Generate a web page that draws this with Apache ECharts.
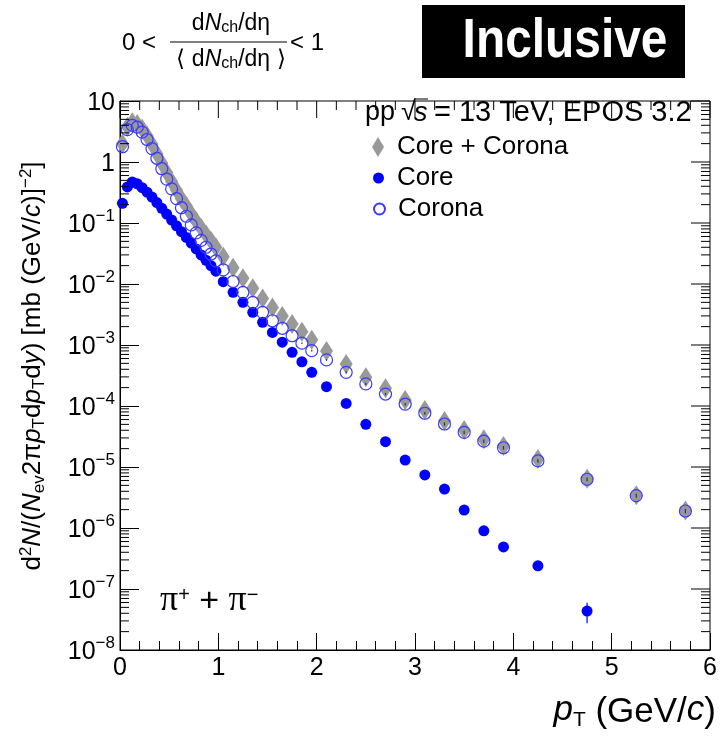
<!DOCTYPE html>
<html><head><meta charset="utf-8">
<script src="https://cdn.jsdelivr.net/npm/echarts@6/dist/echarts.min.js"></script>
<style>html,body{margin:0;padding:0;background:#fff}#c{width:720px;height:739px}</style>
</head><body><div id="c"></div><script>
// ---- data ----
const pt = [0.025,0.075,0.125,0.175,0.225,0.275,0.325,0.375,0.425,0.475,0.525,0.575,0.625,0.675,0.725,0.775,0.825,0.875,0.925,0.975,
  1.05,1.15,1.25,1.35,1.45,1.55,1.65,1.75,1.85,1.95,
  2.1,2.3,2.5,2.7,2.9,3.1,3.3,3.5,3.7,3.9,
  4.25,4.75,5.25,5.75];
const coreY = [0.21,0.39,0.47,0.44,0.38,0.32,0.266,0.216,0.174,0.14,0.112,0.090,0.072,0.058,0.047,0.0376,0.030,0.0245,0.020,0.0162,
  0.0109,0.0073,0.0050,0.00343,0.00235,0.00161,0.00111,0.00076,0.00053,0.000356,
  2.07e-4,1.10e-4,5.0e-5,2.6e-5,1.3e-5,7.4e-6,4.35e-6,1.97e-6,9.0e-7,4.9e-7,
  2.4e-7,4.35e-8,null,null];
const coronaY = [1.78,3.39,3.98,3.72,3.09,2.34,1.66,1.15,0.776,0.525,0.363,0.251,0.178,0.129,0.093,0.069,0.052,0.040,0.031,0.024,
  0.017,0.011,7.3e-3,5.0e-3,3.43e-3,2.5e-3,1.88e-3,1.42e-3,1.07e-3,8.1e-4,
  5.7e-4,3.56e-4,2.3e-4,1.57e-4,1.07e-4,7.6e-5,5.07e-5,3.7e-5,2.65e-5,2.07e-5,
  1.26e-5,6.3e-6,3.4e-6,1.9e-6];
const totalY = [2.0,3.8,4.5,4.2,3.5,2.7,1.95,1.37,0.95,0.67,0.48,0.345,0.25,0.19,0.14,0.107,0.083,0.065,0.051,0.040,
  0.028,0.0184,0.0124,0.0085,0.0058,0.0041,0.0030,0.0022,0.00165,0.00122,
  8.0e-4,4.9e-4,2.95e-4,1.95e-4,1.25e-4,8.6e-5,5.7e-5,4.05e-5,2.85e-5,2.2e-5,
  1.35e-5,6.4e-6,3.45e-6,1.93e-6];
const coreErr = [0,0,0,0,0,0,0,0,0,0,0,0,0,0,0,0,0,0,0,0, 0,0,0,0,0,0,0,0,0,0, 0,0,0,0,0,0,0,0,0,0, 0,1.6e-8,0,0];
const coronaErr = [0,0,0,0,0,0,0,0,0,0,0,0,0,0,0,0,0,0,0,0,
  0,0,0,0,0,0,0,0,3e-5,2.5e-5,
  2e-5,1.4e-5,1e-5,7e-6,5e-6,4e-6,3e-6,2.2e-6,1.7e-6,1.4e-6,
  8e-7,4.5e-7,2.6e-7,1.6e-7];
const xTickValues = [0,1,2,3,4,5,6];
const xMinorStep = 0.2;
const yDecadeExps = [-8,-7,-6,-5,-4,-3,-2,-1,0,1];
const seriesNames = ['Core + Corona','Core','Corona'];

// ---- helpers ----
const FONT = '"Liberation Sans", Arial, sans-serif';
function pairs(ys){ return pt.map((x,i)=> ys[i]==null ? null : [x, ys[i]]).filter(Boolean); }
function errs(ys, es){ return pt.map((x,i)=> (ys[i]!=null && es[i]) ? [x, ys[i]-es[i], ys[i]+es[i]] : null).filter(Boolean); }
const XMIN = 0, XMAX = 6, YMIN = 1e-8, YMAX = 10;

function errRender(color){
  return function(params, api){
    const x = api.value(0), lo = api.value(1), hi = api.value(2);
    const p1 = api.coord([x, lo]), p2 = api.coord([x, hi]);
    return {type:'line', shape:{x1:p1[0],y1:p1[1],x2:p2[0],y2:p2[1]}, style:{stroke:color, lineWidth:1.2}};
  };
}
// extra ROOT-style ticks: log minor ticks (2..9 per decade) on the left, mirrored ticks on right and top
function tickRender(params, api){
  const kids = [];
  function ln(x1,y1,x2,y2){ if ([x1,y1,x2,y2].every(isFinite)) kids.push({type:'line', shape:{x1:x1,y1:y1,x2:x2,y2:y2}, style:{stroke:'#000', lineWidth:1}}); }
  try {
    for (let i=0;i<yDecadeExps.length;i++){
      const v = Math.pow(10, yDecadeExps[i]);
      const q = api.coord([XMAX, v]);
      ln(q[0], q[1], q[0]-19, q[1]);
      if (i < yDecadeExps.length-1){
        for (let k=2;k<=9;k++){
          const a = api.coord([XMIN, k*v]), b = api.coord([XMAX, k*v]);
          ln(a[0], a[1], a[0]+9, a[1]); ln(b[0], b[1], b[0]-9, b[1]);
        }
      }
    }
    const nMinor = Math.round((XMAX-XMIN)/xMinorStep);
    for (let j=0;j<=nMinor;j++){
      const x = XMIN + j*xMinorStep;
      const len = (j % Math.round(1/xMinorStep) === 0) ? 17 : 9;
      const t = api.coord([x, YMAX]);
      ln(t[0], t[1], t[0], t[1]+len);
    }
  } catch(e) {}
  return {type:'group', children:kids};
}

const chart = echarts.init(document.getElementById('c'), null, {renderer:'canvas'});
function yFmt(v){ const e = Math.round(Math.log10(v)); if (e === 1) return '{b|10}'; if (e === 0) return '{b|1}'; return '{b|10}{e|\u2212' + (-e) + '}'; }

const option = {
  animation:false,
  grid:{left:120, right:10, top:101, bottom:89, show:true, borderColor:'#000', borderWidth:1},
  xAxis:{type:'value', min:XMIN, max:XMAX, interval:1,
    axisLine:{show:true, onZero:false, lineStyle:{color:'#000', width:1}},
    axisTick:{show:true, inside:true, length:17, lineStyle:{color:'#000'}},
    minorTick:{show:true, splitNumber:5, length:9, lineStyle:{color:'#000'}},
    splitLine:{show:false}, axisLabel:{show:true, fontSize:25, fontFamily:FONT, color:'#000', margin:6}},
  yAxis:{type:'log', logBase:10, min:YMIN, max:YMAX, splitNumber:9,
    axisLine:{show:true, onZero:false, lineStyle:{color:'#000', width:1}},
    axisTick:{show:true, inside:true, length:19, lineStyle:{color:'#000'}},
    splitLine:{show:false},
    axisLabel:{show:true, formatter:yFmt, rich:{b:{fontSize:25, fontFamily:FONT, color:'#000', lineHeight:30, verticalAlign:'bottom'}, e:{fontSize:17, fontFamily:FONT, color:'#000', lineHeight:17, verticalAlign:'top'}}, margin:5}},
  legend:[
    {data:[seriesNames[0]], selectedMode:false, padding:0, orient:'vertical', left:372, top:134, itemWidth:12, itemHeight:20, textStyle:{fontSize:26, fontFamily:FONT, color:'#000', padding:[0,0,0,8]}},
    {data:[seriesNames[1]], selectedMode:false, padding:0, orient:'vertical', left:373, top:165, itemWidth:11, itemHeight:11, textStyle:{fontSize:26, fontFamily:FONT, color:'#000', padding:[0,0,0,8]}},
    {data:[seriesNames[2]], selectedMode:false, padding:0, orient:'vertical', left:373, top:196, itemWidth:11, itemHeight:11, textStyle:{fontSize:26, fontFamily:FONT, color:'#000', padding:[0,0,0,8]}}
  ],
  series:[
    {type:'scatter', name:seriesNames[0], data:pairs(totalY), symbol:'diamond', symbolSize:[13,20], itemStyle:{color:'#999999', opacity:1}, z:2},
    {type:'scatter', name:seriesNames[1], data:pairs(coreY), symbol:'circle', symbolSize:11, itemStyle:{color:'#0000ff', opacity:1}, z:3},
    {type:'scatter', name:seriesNames[2], data:pairs(coronaY), symbol:'circle', symbolSize:12, itemStyle:{color:'rgba(255,255,255,0)', borderColor:'#3a3aff', borderWidth:1.2, opacity:1}, z:4},
    {type:'custom', name:'coreErr', data:errs(coreY, coreErr), renderItem:errRender('#0000ff'), z:3, silent:true},
    {type:'custom', name:'coronaErr', data:errs(coronaY, coronaErr), renderItem:errRender('#333'), z:5, silent:true},
    {type:'custom', name:'frameTicks', data:[[1, 1]], renderItem:tickRender, z:6, silent:true, clip:false}
  ],
  graphic:[
    // Inclusive box
    {type:'rect', shape:{x:422, y:5, width:263, height:73}, style:{fill:'#000'}},
    {type:'text', x:565, y:42, scaleX:0.87, style:{text:'Inclusive', font:'bold 55px '+FONT, fill:'#fff', align:'center', verticalAlign:'middle'}},
    // multiplicity selection
    {type:'text', x:122, y:43, style:{text:'0 <', font:'24px '+FONT, fill:'#000', align:'left', verticalAlign:'middle'}},
    {type:'text', x:231, y:24, style:{text:'d{i|N}{s|ch}/d\u03b7', font:'23px '+FONT, fill:'#000', align:'center', verticalAlign:'middle',
      rich:{i:{fontStyle:'italic', fontSize:23, fontFamily:FONT}, s:{fontSize:16, fontFamily:FONT, verticalAlign:'bottom', lineHeight:14}}}},
    {type:'line', shape:{x1:170, y1:42, x2:287, y2:42}, style:{stroke:'#000', lineWidth:1}},
    {type:'text', x:231, y:60, style:{text:'\u27e8 d{i|N}{s|ch}/d\u03b7 \u27e9', font:'23px '+FONT, fill:'#000', align:'center', verticalAlign:'middle',
      rich:{i:{fontStyle:'italic', fontSize:23, fontFamily:FONT}, s:{fontSize:16, fontFamily:FONT, verticalAlign:'bottom', lineHeight:14}}}},
    {type:'text', x:290, y:43, style:{text:'< 1', font:'24px '+FONT, fill:'#000', align:'left', verticalAlign:'middle'}},
    // collision label
    {type:'text', x:365, y:113, style:{text:'pp', font:'27px '+FONT, fill:'#000', align:'left', verticalAlign:'middle'}},
    {type:'text', x:401, y:113, style:{text:'\u221a', font:'27px '+FONT, fill:'#000', align:'left', verticalAlign:'middle'}},
    {type:'line', shape:{x1:414, y1:99, x2:428, y2:99}, style:{stroke:'#000', lineWidth:1}},
    {type:'text', x:414, y:113, style:{text:'s', font:'italic 27px '+FONT, fill:'#000', align:'left', verticalAlign:'middle'}},
    {type:'text', x:434, y:113, style:{text:'= 13 TeV, EPOS 3.2', font:'29px '+FONT, fill:'#000', align:'left', verticalAlign:'middle'}},
    // particle label
    {type:'text', x:160, y:602, style:{text:'{p|\u03c0}{u|+}{m| + }{p|\u03c0}{u|\u2212}', font:'30px '+FONT, fill:'#000', align:'left', verticalAlign:'middle',
      rich:{p:{fontFamily:'"Liberation Serif", serif', fontSize:36, lineHeight:34, verticalAlign:'bottom'},
            m:{fontFamily:FONT, fontSize:34, lineHeight:34, verticalAlign:'bottom'},
            u:{fontSize:20, lineHeight:20, verticalAlign:'top', fontFamily:FONT}}}},
    // x axis title
    {type:'text', x:716, y:712, style:{text:'{i|p}{s|T} (GeV/{i|c})', font:'35px '+FONT, fill:'#000', align:'right', verticalAlign:'middle',
      rich:{i:{fontStyle:'italic', fontSize:35, fontFamily:FONT, lineHeight:38, verticalAlign:'top'}, s:{fontSize:21, fontFamily:FONT, lineHeight:21, verticalAlign:'bottom'}}}},
    // y axis title
    {type:'text', x:33, y:366, rotation:Math.PI/2, style:{text:'d{u|2}{i|N}/({i|N}{s|ev}2\u03c0{i|p}{s|T}d{i|p}{s|T}d{i|y}) [mb (GeV/{i|c})]{u|\u22122}]', font:'26px '+FONT, fill:'#000', align:'center', verticalAlign:'middle',
      rich:{i:{fontStyle:'italic', fontSize:26, fontFamily:FONT, lineHeight:30}, s:{fontSize:17, fontFamily:FONT, lineHeight:17, verticalAlign:'bottom'}, u:{fontSize:17, fontFamily:FONT, lineHeight:17, verticalAlign:'top'}}}}
  ]
};
chart.setOption(option);
</script></body></html>
